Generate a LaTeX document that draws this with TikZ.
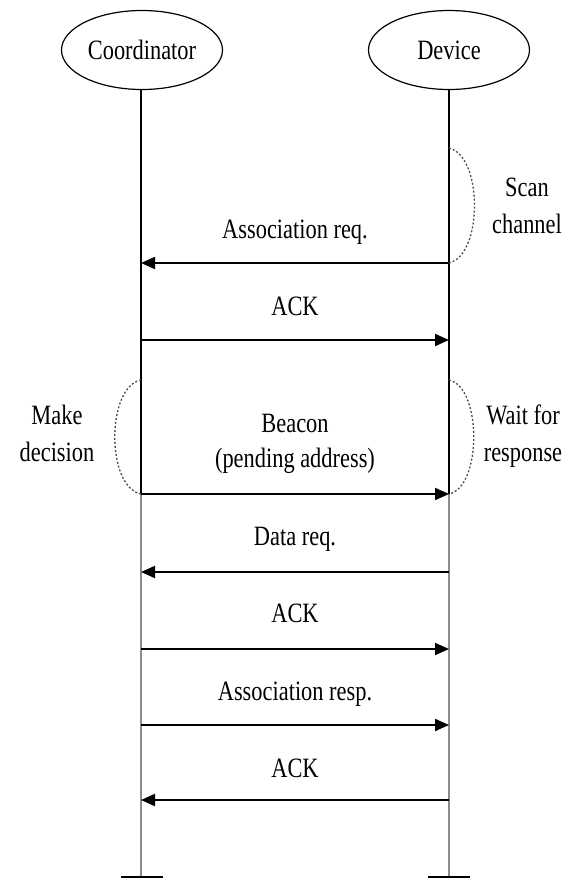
\documentclass[tikz,border=0pt]{standalone}
\usepackage{fontspec}
\setmainfont{Liberation Serif}
\usetikzlibrary{shapes.geometric,arrows.meta}
\newcommand{\narrow}[1]{\scalebox{0.8}[1]{#1}}
\begin{document}
\begin{tikzpicture}[x=1pt,y=-1pt,
  lbl/.style={font=\fontsize{28}{37}\selectfont, inner sep=0pt, align=center},
  actor/.style={draw, ellipse, line width=1.2pt, minimum width=161pt, minimum height=79pt, inner sep=0pt, font=\fontsize{28}{37}\selectfont},
  life/.style={line width=1.3pt},
  lifelow/.style={line width=1.6pt, draw=black!45},
  msg/.style={line width=2pt, -{Triangle[length=14pt,width=12pt]}},
  span/.style={line width=1.3pt, dash pattern=on 2pt off 2pt, draw=black!70},
  endbar/.style={line width=2pt}]
\useasboundingbox (0,0) rectangle (570,879);

% participants
\node[actor] (coord) at (142,50) {\narrow{Coordinator}};
\node[actor] (dev) at (449,50) {\narrow{Device}};

% lifeline end points
\coordinate (cT) at (141,89);
\coordinate (dT) at (449,89);
\coordinate (cM) at (141,494);
\coordinate (dM) at (449,494);
\coordinate (cB) at (141,877);
\coordinate (dB) at (449,877);
\draw[life] (cT) -- (cM);
\draw[life] (dT) -- (dM);
\draw[lifelow] (cM) -- (cB);
\draw[lifelow] (dM) -- (dB);
\coordinate (cL) at (121,877);
\coordinate (cR) at (163,877);
\coordinate (dL) at (428,877);
\coordinate (dR) at (470,877);
\draw[endbar] (cL) -- (cR);
\draw[endbar] (dL) -- (dR);

% message anchors on the lifelines
\foreach \i/\y in {1/263,2/340,3/494,4/572,5/649,6/725,7/800}{
  \coordinate (c\i) at (141,\y);
  \coordinate (d\i) at (449,\y);
}

% messages
\draw[msg] (d1) -- (c1);
\draw[msg] (c2) -- (d2);
\draw[msg] (c3) -- (d3);
\draw[msg] (d4) -- (c4);
\draw[msg] (c5) -- (d5);
\draw[msg] (c6) -- (d6);
\draw[msg] (d7) -- (c7);

% message labels
\node[lbl, anchor=base] (m1) at (295,238) {\narrow{Association req.}};
\node[lbl, anchor=base] (m2) at (295,315) {\narrow{ACK}};
\node[lbl, anchor=base] (m3a) at (295,432) {\narrow{Beacon}};
\node[lbl, anchor=base] (m3b) at (295,467) {\narrow{(pending address)}};
\node[lbl, anchor=base] (m4) at (295,545) {\narrow{Data req.}};
\node[lbl, anchor=base] (m5) at (295,622) {\narrow{ACK}};
\node[lbl, anchor=base] (m6) at (295,700) {\narrow{Association resp.}};
\node[lbl, anchor=base] (m7) at (295,777) {\narrow{ACK}};

% activity spans
\coordinate (s1) at (449,148);
\draw[span] (s1) .. controls (483,156) and (483,255) .. (d1);
\coordinate (s2) at (141,380);
\draw[span] (s2) .. controls (106,387) and (106,487) .. (c3);
\coordinate (s3) at (449,380);
\draw[span] (s3) .. controls (482,387) and (482,487) .. (d3);

% activity labels
\node[lbl, anchor=base] (a1a) at (527,196) {\narrow{Scan}};
\node[lbl, anchor=base] (a1b) at (527,233) {\narrow{channel}};
\node[lbl, anchor=base] (a2a) at (57,424) {\narrow{Make}};
\node[lbl, anchor=base] (a2b) at (57,461) {\narrow{decision}};
\node[lbl, anchor=base] (a3a) at (523,424) {\narrow{Wait for}};
\node[lbl, anchor=base] (a3b) at (523,461) {\narrow{response}};
\end{tikzpicture}
\end{document}
